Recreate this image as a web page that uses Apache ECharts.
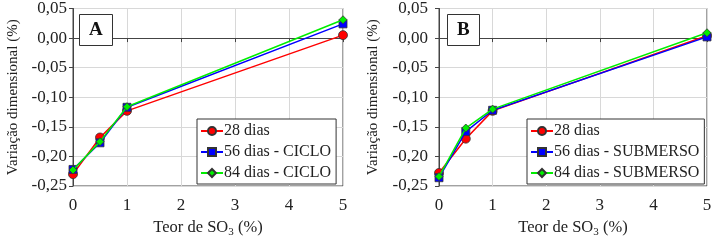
<!DOCTYPE html>
<html>
<head>
<meta charset="utf-8">
<script src="https://cdn.jsdelivr.net/npm/echarts@6/dist/echarts.min.js"></script>
<style>
  html, body { margin: 0; padding: 0; background: #fff; }
  #main { width: 717px; height: 243px; }
</style>
</head>
<body>
<div id="main"></div>
<script>
// teor de SO3 (%)
const teorSO3 = [0, 0.5, 1, 5];

// painel A - ciclo
const a28 = [-0.230, -0.168, -0.123, 0.005];
const a56 = [-0.222, -0.177, -0.117, 0.024];
const a84 = [-0.223, -0.175, -0.116, 0.031];

// painel B - submerso
const b28 = [-0.228, -0.170, -0.123, 0.004];
const b56 = [-0.236, -0.158, -0.122, 0.002];
const b84 = [-0.234, -0.152, -0.120, 0.009];

const namesA = ['28 dias', '56 dias - CICLO', '84 dias - CICLO'];
const namesB = ['28 dias', '56 dias - SUBMERSO', '84 dias - SUBMERSO'];

const font = 'Liberation Serif';
const cores = ['#ff0000', '#0000ff', '#00ee00'];
const simbolos = ['circle', 'rect', 'diamond'];
const tamanhos = [9, 8, 8];

function pts(vals) {
  return teorSO3.map((x, i) => [x, vals[i]]);
}

function xAxisCfg(idx) {
  return {
    type: 'value', gridIndex: idx, min: 0, max: 5, interval: 1,
    name: 'Teor de SO{sub|3} (%)', nameLocation: 'middle', nameGap: 32,
    nameTextStyle: {
      fontFamily: font, fontSize: 16.5, color: '#222',
      rich: { sub: { fontFamily: font, fontSize: 11, color: '#222', padding: [9, 0, 0, 0] } }
    },
    axisLine: { lineStyle: { color: '#444' } },
    axisTick: { show: true, length: 4, lineStyle: { color: '#444' } },
    axisLabel: { fontFamily: font, fontSize: 17, color: '#222', margin: 11 },
    splitLine: { show: true, lineStyle: { color: '#d8d8d8' } }
  };
}

function yAxisCfg(idx, gap, margin) {
  return {
    type: 'value', gridIndex: idx, min: -0.25, max: 0.05, interval: 0.05,
    name: 'Variação dimensional (%)', nameLocation: 'middle', nameGap: gap,
    nameTextStyle: { fontFamily: font, fontSize: 15, color: '#222' },
    axisLine: { show: true, lineStyle: { color: '#444' } },
    axisTick: { show: true, length: 4, lineStyle: { color: '#444' } },
    axisLabel: {
      fontFamily: font, fontSize: 17, color: '#222', margin: margin,
      formatter: v => (Math.round(v * 100) / 100).toFixed(2).replace('.', ',')
    },
    splitLine: { show: true, lineStyle: { color: '#d8d8d8' } }
  };
}

function serie(name, vals, k, idx) {
  return {
    name: name, type: 'line', xAxisIndex: idx, yAxisIndex: idx,
    data: pts(vals),
    symbol: simbolos[k], symbolSize: tamanhos[k],
    lineStyle: { color: cores[k], width: 1.5 },
    itemStyle: { color: cores[k], borderColor: '#333', borderWidth: 0.8 },
    z: 2 + k
  };
}

function legendaCfg(names, left, top) {
  return {
    data: names, left: left, top: top,
    orient: 'vertical', itemGap: 5, itemWidth: 22, itemHeight: 10,
    padding: [4, 5, 3, 3],
    backgroundColor: '#fff', borderColor: '#333', borderWidth: 1,
    textStyle: { fontFamily: font, fontSize: 16, color: '#222', padding: [0, 0, 0, -4] }
  };
}

function rotuloCfg(txt, left) {
  return {
    text: txt, left: left, top: 14,
    padding: [7, 10, 6, 10],
    borderColor: '#333', borderWidth: 1, backgroundColor: '#fff',
    textStyle: { fontFamily: font, fontSize: 19, fontWeight: 'bold', color: '#111' }
  };
}

const option = {
  animation: false,
  backgroundColor: '#fff',
  title: [rotuloCfg('A', 79), rotuloCfg('B', 447)],
  legend: [legendaCfg(namesA, 197, 119), legendaCfg(namesB, 527, 119)],
  grid: [
    { left: 73, right: 374, top: 7, bottom: 54, show: true, borderColor: '#444', borderWidth: 1 },
    { left: 439, right: 10, top: 7, bottom: 54, show: true, borderColor: '#444', borderWidth: 1 }
  ],
  xAxis: [xAxisCfg(0), xAxisCfg(1)],
  yAxis: [yAxisCfg(0, 52, 6), yAxisCfg(1, 58, 11)],
  series: [
    serie(namesA[0], a28, 0, 0),
    serie(namesA[1], a56, 1, 0),
    serie(namesA[2], a84, 2, 0),
    serie(namesB[0], b28, 0, 1),
    serie(namesB[1], b56, 1, 1),
    serie(namesB[2], b84, 2, 1)
  ]
};

const chart = echarts.init(document.getElementById('main'));
chart.setOption(option);
</script>
</body>
</html>
